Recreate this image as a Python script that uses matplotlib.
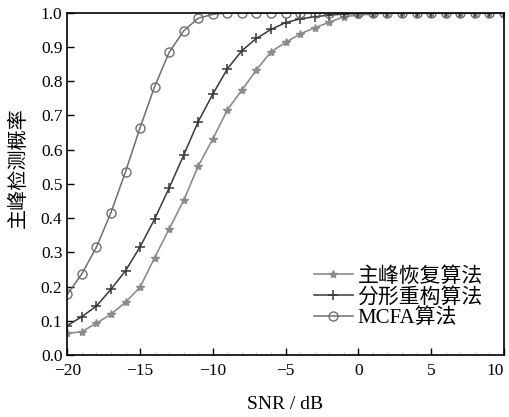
import numpy as np
import matplotlib.pyplot as plt
from matplotlib.ticker import MultipleLocator

plt.rcParams['font.family'] = ['Liberation Serif', 'Noto Sans CJK SC']
plt.rcParams['axes.unicode_minus'] = True

snr = list(range(-20, 11))
x_ticks = [-20, -15, -10, -5, 0, 5, 10]
# 主峰恢复算法
peak_recover = [0.063, 0.068, 0.093, 0.119, 0.154, 0.198, 0.284, 0.368, 0.452, 0.552,
                0.631, 0.716, 0.774, 0.833, 0.886, 0.913, 0.938, 0.956, 0.972, 0.988,
                0.993, 0.996, 1.0, 1.0, 1.0, 1.0, 1.0, 1.0, 1.0, 1.0, 1.0]
# 分形重构算法
fractal = [0.086, 0.112, 0.143, 0.192, 0.246, 0.316, 0.397, 0.488, 0.584, 0.682,
           0.762, 0.836, 0.889, 0.925, 0.951, 0.971, 0.982, 0.988, 0.993, 0.996,
           0.998, 1.0, 1.0, 1.0, 1.0, 1.0, 1.0, 1.0, 1.0, 1.0, 1.0]
# MCFA算法
mcfa = [0.177, 0.237, 0.315, 0.416, 0.535, 0.664, 0.784, 0.884, 0.947, 0.984,
        0.995, 1.0, 1.0, 1.0, 1.0, 1.0, 1.0, 1.0, 1.0, 1.0,
        1.0, 1.0, 1.0, 1.0, 1.0, 1.0, 1.0, 1.0, 1.0, 1.0, 1.0]

fig = plt.figure(figsize=(5.09, 4.17), dpi=100)
ax = fig.add_axes([67.3 / 509, 1 - 355 / 417, (503.8 - 67.3) / 509, (355 - 12.7) / 417])

ax.plot(snr, peak_recover, color='#8c8c8c', lw=1.2, marker='*', ms=6,
        mec='#8c8c8c', mfc='#8c8c8c', label='主峰恢复算法')
ax.plot(snr, fractal, color='#383838', lw=1.1, marker='+', ms=7, mew=1.1,
        label='分形重构算法')
ax.plot(snr, mcfa, color='#6e6e6e', lw=1.1, marker='o', ms=6.5, mfc='none',
        mec='#6e6e6e', mew=1.0, label='MCFA算法')

ax.set_xlim(-20, 10)
ax.set_ylim(0, 1.0)
ax.set_xticks(x_ticks)
ax.xaxis.set_minor_locator(MultipleLocator(1))
ax.yaxis.set_major_locator(MultipleLocator(0.1))
ax.yaxis.set_major_formatter(plt.FuncFormatter(lambda v, p: f'{v:.1f}'))
ax.tick_params(direction='in', labelsize=12.5, length=5, width=1, top=False, right=False)
ax.tick_params(which='minor', direction='in', length=2, width=0.6, color='#bbbbbb')
ax.tick_params(axis='x', pad=6)
for s in ax.spines.values():
    s.set_linewidth(1.2)

ax.set_xlabel('SNR / dB', fontsize=14, labelpad=12)
ax.set_ylabel('主峰检测概率', fontsize=14.5)
ax.yaxis.set_label_coords(-0.088, 0.546)

ax.legend(loc='lower right', frameon=False, fontsize=15, handlelength=1.9,
          handletextpad=0.2, labelspacing=0.05, borderaxespad=0.3,
          bbox_to_anchor=(0.985, 0.035))

# 最右侧刻度标签右对齐，避免越出画布
ax.xaxis.get_major_ticks()[len(x_ticks) - 1].label1.set_horizontalalignment('right')

fig.savefig('out.png', dpi=100)
